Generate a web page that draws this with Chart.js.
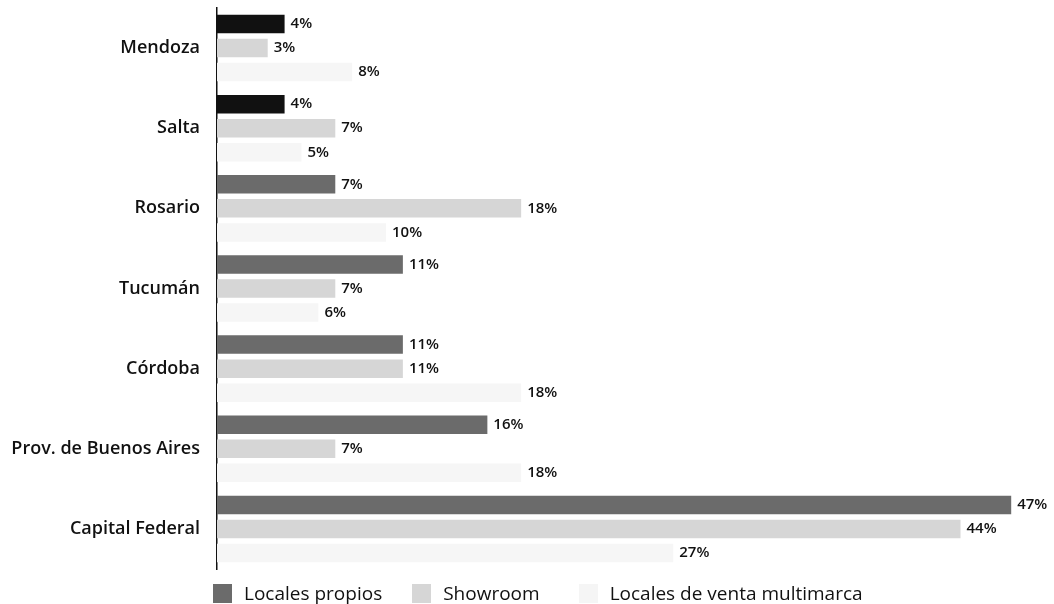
<!DOCTYPE html>
<html>
<head>
<meta charset="utf-8">
<script src="https://cdn.jsdelivr.net/npm/chart.js@4"></script>
<style>
  html, body { margin: 0; padding: 0; background: #fff; }
  #wrap { width: 1054px; height: 604px; position: relative; overflow: hidden; }
  #legend { position: absolute; left: 213px; top: 580px; display: flex; align-items: center;
            font-family: "Open Sans", "Noto Sans", sans-serif; font-size: 19px; font-weight: 500; color: #111; }
  #legend .item { display: flex; align-items: center; }
  #legend .box { width: 19px; height: 19px; margin-right: 12px; }
</style>
</head>
<body>
<div id="wrap">
  <canvas id="myChart" width="1054" height="604"></canvas>
  <div id="legend"></div>
</div>
<script>
const categories = ['Mendoza', 'Salta', 'Rosario', 'Tucumán', 'Córdoba', 'Prov. de Buenos Aires', 'Capital Federal'];
const localesPropios = [4, 4, 7, 11, 11, 16, 47];
const showroom = [3, 7, 18, 7, 11, 7, 44];
const multimarca = [8, 5, 10, 6, 18, 18, 27];
const seriesNames = ['Locales propios', 'Showroom', 'Locales de venta multimarca'];

// the first two rows are printed in black in the original
const propiosColors = ['#111111', '#111111', '#6b6b6b', '#6b6b6b', '#6b6b6b', '#6b6b6b', '#6b6b6b'];
const legendColors = ['#6b6b6b', '#d6d6d6', '#f5f5f5'];
const legendGaps = [30, 39, 0];

const FONT = '"Open Sans", "Noto Sans", sans-serif';

// labels "NN%" at the end of each bar
const endLabels = {
  id: 'endLabels',
  afterDatasetsDraw(chart) {
    const ctx = chart.ctx;
    ctx.save();
    ctx.font = '600 15px ' + FONT;
    ctx.fillStyle = '#111';
    ctx.textBaseline = 'middle';
    chart.data.datasets.forEach((ds, i) => {
      chart.getDatasetMeta(i).data.forEach((bar, j) => {
        ctx.fillText(ds.data[j] + '%', bar.x + 6, bar.y);
      });
    });
    ctx.restore();
  }
};

const chart = new Chart(document.getElementById('myChart').getContext('2d'), {
  type: 'bar',
  data: {
    labels: categories,
    datasets: [
      { label: seriesNames[0], data: localesPropios, backgroundColor: propiosColors },
      { label: seriesNames[1], data: showroom, backgroundColor: '#d6d6d6' },
      { label: seriesNames[2], data: multimarca, backgroundColor: '#f6f6f6' }
    ]
  },
  options: {
    indexAxis: 'y',
    responsive: false,
    animation: false,
    layout: { padding: { top: 8, right: 9, bottom: 35, left: 0 } },
    datasets: { bar: { categoryPercentage: 0.9, barPercentage: 0.77 } },
    scales: {
      x: {
        display: false,
        min: 0,
        max: 49
      },
      y: {
        afterFit(scale) {
          scale.width = 217;
          scale.paddingTop = 0;
          scale.paddingBottom = 0;
        },
        grid: { display: false, drawTicks: false },
        border: { display: true, color: '#111', width: 1.5 },
        ticks: {
          padding: 17,
          color: '#111',
          font: { family: FONT, size: 18, weight: '600' }
        }
      }
    },
    plugins: {
      tooltip: { enabled: false },
      legend: { display: false }
    }
  },
  plugins: [endLabels]
});

// legend built from the series names
const legend = document.getElementById('legend');
seriesNames.forEach((name, i) => {
  const item = document.createElement('div');
  item.className = 'item';
  item.style.marginRight = legendGaps[i] + 'px';
  item.innerHTML = '<span class="box" style="background:' + legendColors[i] + '"></span><span>' + name + '</span>';
  legend.appendChild(item);
});
</script>
</body>
</html>
